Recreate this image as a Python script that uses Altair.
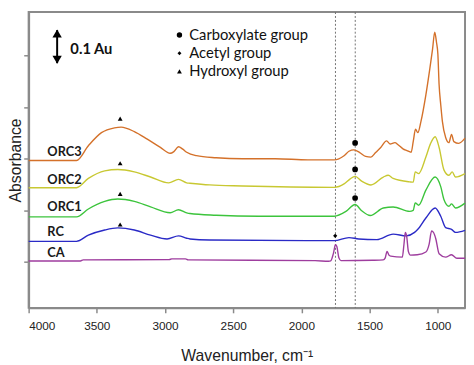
import altair as alt
import pandas as pd

# ---- spectra: wavenumber (cm-1) and absorbance (Au, stacked with offsets) ----
orc3_wn = [4000, 3851, 3649, 3562, 3466, 3370, 3322, 3225, 3130, 3034, 2962, 2935, 2901, 2870, 2841, 2769, 2625,
           2432, 2192, 1952, 1759, 1687, 1651, 1615, 1572, 1529, 1490, 1456, 1418, 1375, 1350, 1314, 1291, 1255,
           1226, 1195, 1179, 1163, 1146, 1123, 1087, 1058, 1038, 1022, 1009, 999, 990, 978, 966, 942, 918, 899,
           882, 846, 800]
orc3_ab = [.295, .295, .295, .338, .376, .390, .392, .379, .357, .333, .316, .321, .335, .328, .319, .309, .303,
           .300, .300, .297, .297, .309, .322, .326, .318, .307, .305, .318, .333, .352, .343, .347, .341, .329,
           .324, .319, .352, .386, .376, .409, .486, .562, .619, .668, .638, .604, .515, .457, .409, .362, .347,
           .371, .350, .345, .360]

orc2_wn = [4000, 3649, 3562, 3442, 3346, 3225, 3106, 2973, 2901, 2841, 2817, 2673, 2432, 1759, 1687, 1644, 1606,
           1558, 1490, 1399, 1363, 1327, 1206, 1180, 1165, 1140, 1087, 1053, 1019, 990, 954, 918, 894, 870, 800]
orc2_ab = [.216, .216, .243, .265, .269, .262, .247, .230, .240, .230, .229, .224, .221, .217, .227, .241, .249,
           .235, .224, .247, .252, .243, .233, .232, .262, .257, .305, .344, .364, .333, .267, .252, .262, .247, .257]

orc1_wn = [4000, 3649, 3562, 3442, 3346, 3225, 3106, 2962, 2901, 2841, 2817, 2625, 2312, 1759, 1673, 1606, 1558,
           1495, 1399, 1327, 1206, 1180, 1165, 1140, 1087, 1019, 978, 954, 918, 899, 870, 800]
orc1_ab = [.131, .131, .154, .176, .183, .176, .160, .143, .152, .143, .141, .136, .133, .133, .147, .167, .149,
           .135, .157, .160, .147, .150, .172, .165, .209, .247, .219, .181, .162, .169, .157, .171]

rc_wn = [4000, 3649, 3562, 3442, 3346, 3225, 3106, 2985, 2901, 2841, 2817, 2673, 1759, 1651, 1579, 1447, 1327,
         1231, 1170, 1146, 1087, 1019, 978, 942, 899, 870, 800]
rc_ab = [.060, .060, .078, .093, .099, .093, .078, .067, .076, .069, .067, .064, .062, .071, .067, .065, .081,
         .076, .086, .095, .128, .157, .133, .100, .095, .086, .092]

ca_wn = [4000, 3620, 3600, 2970, 2950, 2850, 2830, 1900, 1800, 1785, 1765, 1750, 1740, 1725, 1710, 1480, 1400,
         1385, 1372, 1358, 1345, 1260, 1248, 1238, 1228, 1215, 1200, 1150, 1087, 1063, 1045, 1030, 1014, 990,
         942, 899, 860, 800]
ca_ab = [.003, .003, .006, .007, .009, .009, .006, .004, .002, .003, .025, .050, .045, .012, .004, .005, .006,
         .012, .031, .020, .017, .014, .050, .086, .075, .030, .020, .021, .029, .052, .090, .085, .067, .024,
         .014, .021, .011, .011]

series_names = ["ORC3", "ORC2", "ORC1", "RC", "CA"]
series_colors = ["#D4712A", "#C8C832", "#3CC43C", "#2A2AC6", "#9E3D9E"]

# series labels
label_wn = [3863, 3863, 3863, 3863, 3863]
label_ab = [0.319, 0.239, 0.161, 0.087, 0.025]

# band markers
hydroxyl_wn = [3329, 3329, 3329, 3329]
hydroxyl_ab = [0.417, 0.287, 0.198, 0.109]
carboxylate_wn = [1606, 1606, 1606]
carboxylate_ab = [0.346, 0.269, 0.186]
acetyl_wn = [1752]
acetyl_ab = [0.076]

# reference dotted lines
vline_wn = [1750, 1605]

# legend
legend_text = ["Carboxylate group", "Acetyl group", "Hydroxyl group"]
legend_shapes = ["circle", "diamond", "triangle-up"]
legend_sizes = [30, 16, 24]
legend_ab = [0.660, 0.607, 0.554]
legend_marker_wn = 2894
legend_text_wn = 2822

# scale bar (0.1 Au)
bar_wn = 3791
bar_lo, bar_hi = 0.578, 0.674
bar_label = "0.1 Au"
bar_label_wn = 3694
bar_label_ab = 0.619

x_ticks = [4000, 3500, 3000, 2500, 2000, 1500, 1000]
y_ticks = [0, 0.15, 0.30, 0.45, 0.60]

# ---------------- build tables ----------------
rows = []
for name, wn, ab in zip(series_names,
                        [orc3_wn, orc2_wn, orc1_wn, rc_wn, ca_wn],
                        [orc3_ab, orc2_ab, orc1_ab, rc_ab, ca_ab]):
    rows += [{"series": name, "wn": w, "ab": a} for w, a in zip(wn, ab)]
spectra = pd.DataFrame(rows)

labels_df = pd.DataFrame({"wn": label_wn, "ab": label_ab, "label": series_names})
hyd_df = pd.DataFrame({"wn": hydroxyl_wn, "ab": hydroxyl_ab})
carb_df = pd.DataFrame({"wn": carboxylate_wn, "ab": carboxylate_ab})
acet_df = pd.DataFrame({"wn": acetyl_wn, "ab": acetyl_ab})
vline_df = pd.DataFrame({"wn": vline_wn})
leg_df = pd.DataFrame({"wn": [legend_marker_wn] * 3, "twn": [legend_text_wn] * 3, "ab": legend_ab,
                       "shape": legend_shapes, "size": legend_sizes, "text": legend_text})
bar_df = pd.DataFrame({"wn": [bar_wn], "ab": [bar_lo], "ab2": [bar_hi]})
head_df = pd.DataFrame({"wn": [bar_wn, bar_wn], "ab": [0.664, 0.588], "shape": ["triangle-up", "triangle-down"]})
barlab_df = pd.DataFrame({"wn": [bar_label_wn], "ab": [bar_label_ab], "label": [bar_label]})

xs = alt.Scale(domain=[4000, 800], nice=False, zero=False)
ys = alt.Scale(domain=[-0.1334, 0.7266], nice=False, zero=False)

X = alt.X("wn:Q", scale=xs,
          axis=alt.Axis(values=x_ticks, format="d", title="Wavenumber, cm⁻¹", grid=False,
                        labelPadding=8, titlePadding=17))
Y = alt.Y("ab:Q", scale=ys,
          axis=alt.Axis(values=y_ticks, labels=False, title="Absorbance", grid=False, titlePadding=0))

lines = alt.Chart(spectra).mark_line(strokeWidth=1.4, interpolate="monotone").encode(
    x=X, y=Y,
    color=alt.Color("series:N", scale=alt.Scale(domain=series_names, range=series_colors), legend=None),
)

vlines = alt.Chart(vline_df).mark_rule(color="#707070", strokeWidth=1, strokeDash=[2, 2]).encode(x=X)

series_labels = alt.Chart(labels_df).mark_text(
    align="left", baseline="middle", font="Lato", fontSize=13, fontWeight="bold", color="#1a1a1a"
).encode(x=X, y=Y, text="label:N")

hyd = alt.Chart(hyd_df).mark_point(shape="triangle-up", filled=True, size=24, color="black", opacity=1).encode(x=X, y=Y)
carb = alt.Chart(carb_df).mark_point(shape="circle", filled=True, size=34, color="black", opacity=1).encode(x=X, y=Y)
acet = alt.Chart(acet_df).mark_point(shape="diamond", filled=True, size=18, color="black", opacity=1).encode(x=X, y=Y)

leg_marks = alt.Chart(leg_df).mark_point(filled=True, color="black", opacity=1).encode(
    x=X, y=Y,
    shape=alt.Shape("shape:N", scale=None),
    size=alt.Size("size:Q", scale=None),
)
leg_text = alt.Chart(leg_df).mark_text(
    align="left", baseline="middle", font="Lato", fontSize=15, color="#111111"
).encode(x=alt.X("twn:Q", scale=xs), y=Y, text="text:N")

bar = alt.Chart(bar_df).mark_rule(color="black", strokeWidth=2).encode(x=X, y=Y, y2=alt.Y2("ab2:Q"))
heads = alt.Chart(head_df).mark_point(filled=True, color="black", opacity=1, size=90).encode(
    x=X, y=Y, shape=alt.Shape("shape:N", scale=None))
bar_text = alt.Chart(barlab_df).mark_text(
    align="left", baseline="middle", font="Lato", fontSize=15, fontWeight="bold", color="#111111"
).encode(x=X, y=Y, text="label:N")

chart = alt.layer(
    vlines, lines, series_labels, hyd, carb, acet, leg_marks, leg_text, bar, heads, bar_text
).properties(
    width=444, height=301,
    autosize=alt.AutoSizeParams(type="none"),
    padding={"left": 21, "top": 1, "right": 1, "bottom": 55},
).configure_view(
    stroke="#8a8a8a", strokeWidth=2
).configure_axis(
    domainColor="#8a8a8a", domainWidth=2, tickColor="#8a8a8a", tickWidth=1.5, tickSize=5,
    labelFont="Liberation Sans", labelFontSize=12, labelColor="#222222",
    titleFont="Liberation Sans", titleFontSize=16, titleFontWeight="normal", titleColor="#222222",
)

chart.save("out.html", embed_options={"renderer": "svg", "actions": False})
